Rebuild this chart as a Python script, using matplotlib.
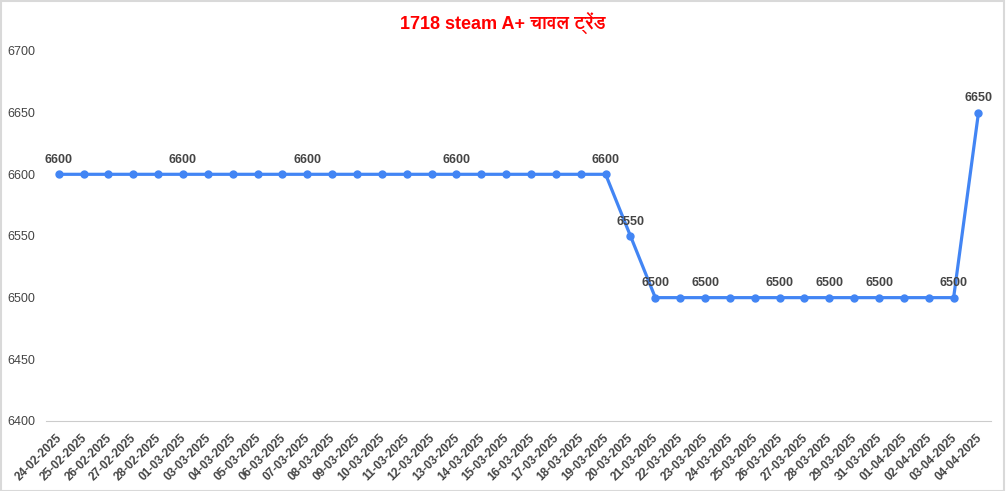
"""Line chart: 1718 steam A+ rice price trend."""

import matplotlib

matplotlib.use("Agg")
import matplotlib.pyplot as plt
from matplotlib import font_manager
from matplotlib.ft2font import FT2Font
from matplotlib.patches import Rectangle
from matplotlib.transforms import ScaledTranslation

dates = [
    "24-02-2025", "25-02-2025", "26-02-2025", "27-02-2025", "28-02-2025",
    "01-03-2025", "03-03-2025", "04-03-2025", "05-03-2025", "06-03-2025",
    "07-03-2025", "08-03-2025", "09-03-2025", "10-03-2025", "11-03-2025",
    "12-03-2025", "13-03-2025", "14-03-2025", "15-03-2025", "16-03-2025",
    "17-03-2025", "18-03-2025", "19-03-2025", "20-03-2025", "21-03-2025",
    "22-03-2025", "23-03-2025", "24-03-2025", "25-03-2025", "26-03-2025",
    "27-03-2025", "28-03-2025", "29-03-2025", "31-03-2025", "01-04-2025",
    "02-04-2025", "03-04-2025", "04-04-2025",
]
prices = [6600] * 23 + [6550] + [6500] * 13 + [6650]
# points that carry a value label in the original chart
labelled = [0, 5, 10, 16, 22, 23, 24, 26, 29, 31, 33, 36, 37]
y_ticks = [6400, 6450, 6500, 6550, 6600, 6650, 6700]

TITLE = "1718 steam A+ चावल ट्रेंड"
LINE_COLOR = "#4285F4"
TEXT_COLOR = "#444444"


def _devanagari_family():
    # prefer a bold face so the title matches the bold latin part
    found = []
    for entry in font_manager.fontManager.ttflist:
        try:
            if 0x091A in FT2Font(entry.fname).get_charmap():
                found.append(entry)
        except Exception:
            continue
    if not found:
        return None
    found.sort(key=lambda e: 0 if str(e.weight) in ("bold", "700", "600") or e.weight == 700 else 1)
    return found[0].name


plt.rcParams["font.family"] = ["Liberation Sans", "DejaVu Sans"]

fig = plt.figure(figsize=(10.06, 4.91), dpi=100)
ax = fig.add_axes([0.046, 0.1426, 0.939, 0.7536])

x = list(range(len(dates)))
ax.plot(x, prices, color=LINE_COLOR, linewidth=2.3, marker="o", markersize=5, zorder=3)

for i in labelled:
    ax.annotate(
        str(prices[i]), (x[i], prices[i]), xytext=(0, 6), textcoords="offset points",
        ha="center", va="bottom", fontsize=9, fontweight="bold", color=TEXT_COLOR,
    )

ax.set_xlim(-0.5, len(dates) - 0.5)
ax.set_ylim(y_ticks[0], y_ticks[-1])
ax.set_yticks(y_ticks)
ax.set_xticks(x)
ax.set_xticklabels(dates, rotation=45, ha="right", fontsize=8.5, fontweight="bold", color=TEXT_COLOR)
ax.tick_params(axis="y", labelsize=9, colors=TEXT_COLOR, length=0, pad=8)
ax.tick_params(axis="x", length=0, pad=8)
shift = ScaledTranslation(4 / 72, 0, fig.dpi_scale_trans)
for label in ax.get_xticklabels():
    label.set_transform(label.get_transform() + shift)
for name in ("top", "right", "left"):
    ax.spines[name].set_visible(False)
ax.spines["bottom"].set_color("#cccccc")

dev = _devanagari_family()
title_family = ["Liberation Sans"] + ([dev] if dev else []) + ["DejaVu Sans"]
fig.text(0.5, 0.953, TITLE, ha="center", va="center", fontsize=13, fontweight="bold",
         color="#ff0000", family=title_family)

fig.patches.append(Rectangle((0.001, 0.001), 0.997, 0.997, transform=fig.transFigure,
                             fill=False, edgecolor="#d9d9d9", linewidth=1.5))

fig.savefig("out.png", dpi=100, facecolor="white")
